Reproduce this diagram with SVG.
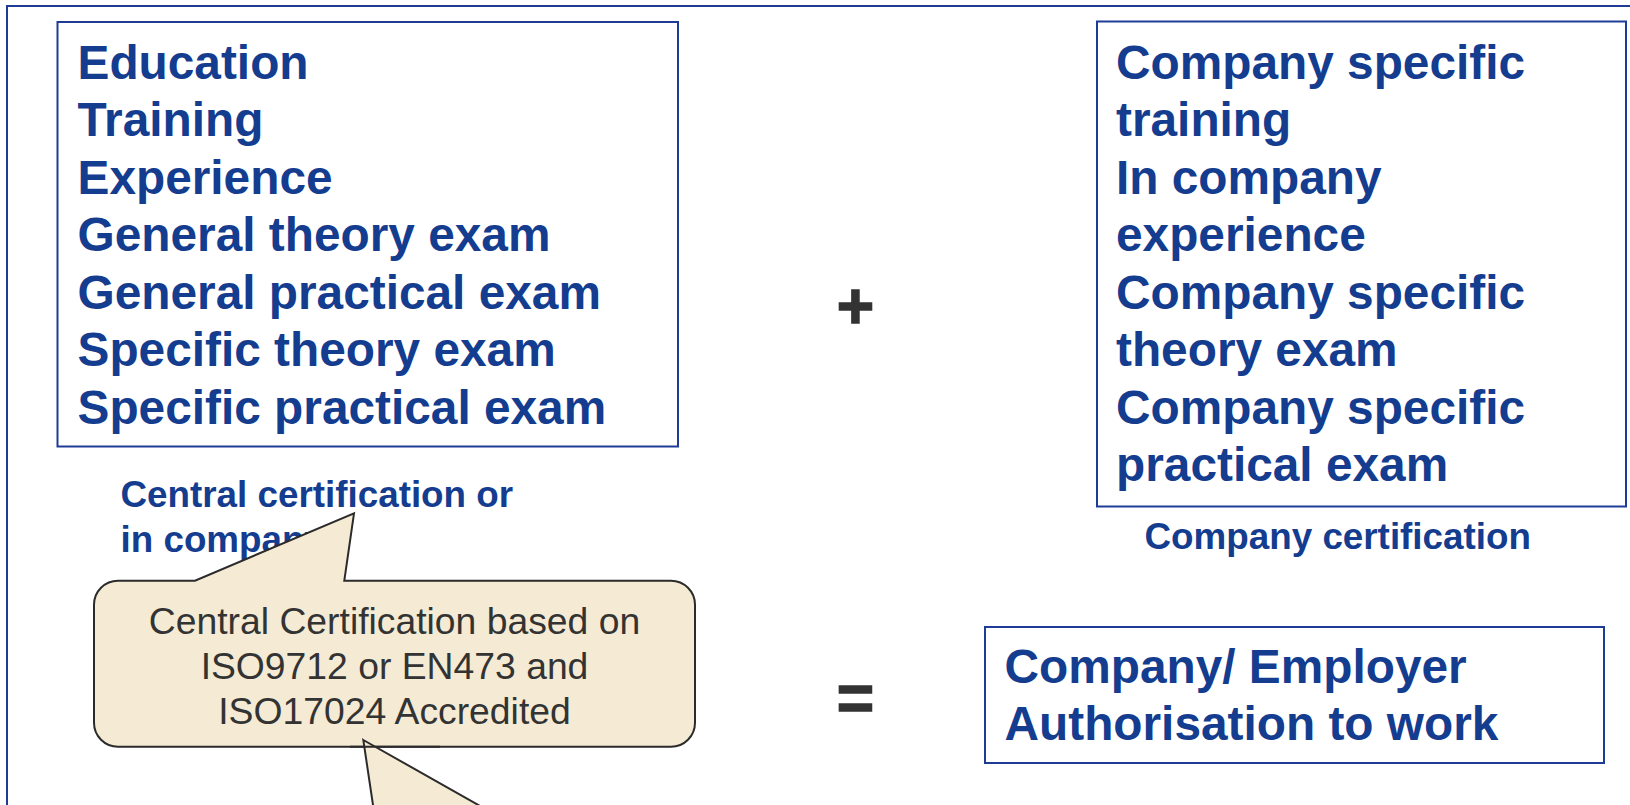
<svg xmlns="http://www.w3.org/2000/svg" width="1630" height="805" viewBox="0 0 1630 805">
<style>
.box{fill:#fff;stroke:#1e3c96;stroke-width:2}
.big{font-family:"Liberation Sans",Arial,sans-serif;font-weight:bold;font-size:47.8px;fill:#143c8f}
.lbl{font-family:"Liberation Sans",Arial,sans-serif;font-weight:bold;font-size:36.8px;fill:#143c8f}
.call{fill:#f5ebd4;stroke:#2b2b2b;stroke-width:2;stroke-linejoin:miter}
.ct{font-family:"Liberation Sans",Arial,sans-serif;font-size:37.3px;fill:#333;text-anchor:middle}
.op{font-family:"Liberation Sans",Arial,sans-serif;font-weight:bold;font-size:64px;fill:#333;text-anchor:middle;stroke:#333;stroke-width:1.5}
</style>
<rect width="1630" height="805" fill="#fff"/>
<rect x="7" y="6" width="1700" height="900" fill="none" stroke="#1e3c96" stroke-width="2"/>

<g id="central-box">
<rect class="box" x="57.5" y="22" width="620.5" height="424.5"/>
<text class="big" x="77.5" y="78.5">Education</text>
<text class="big" x="77.5" y="136">Training</text>
<text class="big" x="77.5" y="193.5">Experience</text>
<text class="big" x="77.5" y="251">General theory exam</text>
<text class="big" x="77.5" y="308.5">General practical exam</text>
<text class="big" x="77.5" y="366">Specific theory exam</text>
<text class="big" x="77.5" y="423.5">Specific practical exam</text>
</g>

<g id="central-label">
<text class="lbl" x="120.5" y="506.7">Central certification or</text>
<text class="lbl" x="120.5" y="551.7">in company</text>
</g>

<g id="company-box">
<rect class="box" x="1097" y="21.5" width="529" height="485"/>
<text class="big" x="1116" y="78.5">Company specific</text>
<text class="big" x="1116" y="136">training</text>
<text class="big" x="1116" y="193.5">In company</text>
<text class="big" x="1116" y="251">experience</text>
<text class="big" x="1116" y="308.5">Company specific</text>
<text class="big" x="1116" y="366">theory exam</text>
<text class="big" x="1116" y="423.5">Company specific</text>
<text class="big" x="1116" y="481">practical exam</text>
</g>

<g id="company-label">
<text class="lbl" x="1144.5" y="549.3">Company certification</text>
</g>

<g id="plus"><text class="op" x="855.5" y="327.5">+</text></g>
<g id="equals"><text class="op" x="855.5" y="720">=</text></g>

<g id="authorisation-box">
<rect class="box" x="985" y="627" width="619" height="136"/>
<text class="big" x="1004.5" y="683">Company/ Employer</text>
<text class="big" x="1004.5" y="740">Authorisation to work</text>
</g>

<g id="callout">
<path class="call" d="M118,580.7 H195 L354,513.3 L344.3,580.7 H671 A24,24 0 0 1 695,604.7 V722.7 A24,24 0 0 1 671,746.7 H118 A24,24 0 0 1 94,722.7 V604.7 A24,24 0 0 1 118,580.7 Z"/>
<text class="ct" x="394.5" y="634.3">Central Certification based on</text>
<text class="ct" x="394.5" y="679.3">ISO9712 or EN473 and</text>
<text class="ct" x="394.5" y="724.3">ISO17024 Accredited</text>
</g>

<g id="connectors">
<polygon class="call" points="363.3,740 496,815 374.5,815"/>
<line x1="350" y1="746.7" x2="440" y2="746.7" stroke="#2b2b2b" stroke-width="2"/>
</g>
</svg>
